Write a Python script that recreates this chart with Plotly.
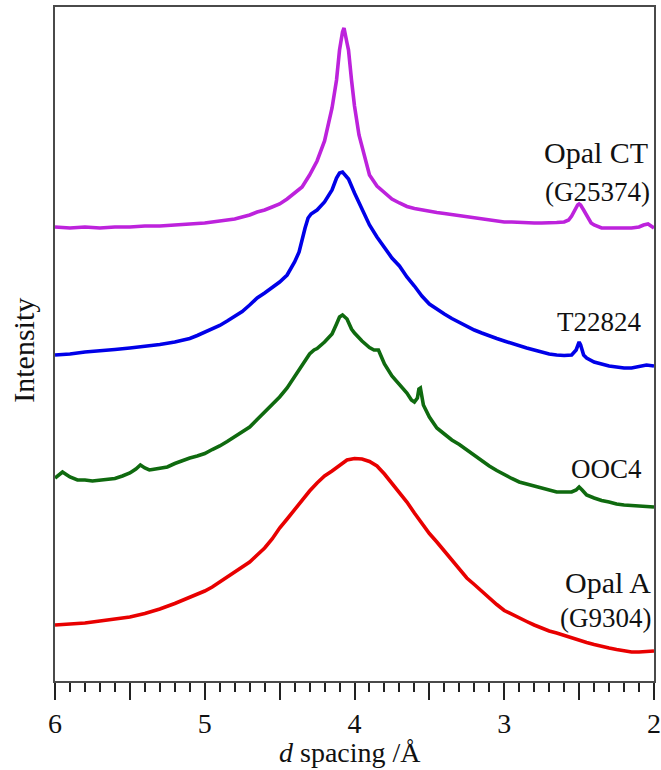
import plotly.graph_objects as go

# d spacing (Å) and stacked intensity (arbitrary units, offset per sample)

# Opal CT (G25374)
ct_d = [6.00, 5.90, 5.80, 5.70, 5.60, 5.50, 5.40, 5.30, 5.20, 5.10, 5.00, 4.90, 4.80, 4.75,
        4.70, 4.65, 4.60, 4.55, 4.50, 4.45, 4.40, 4.35, 4.30, 4.25, 4.20, 4.15, 4.12, 4.10,
        4.08, 4.07, 4.05, 4.04, 4.02, 4.00, 3.97, 3.95, 3.90, 3.85, 3.80, 3.75, 3.70, 3.65,
        3.60, 3.55, 3.50, 3.45, 3.40, 3.35, 3.30, 3.25, 3.20, 3.15, 3.10, 3.05, 3.00, 2.95,
        2.90, 2.85, 2.80, 2.75, 2.70, 2.65, 2.60, 2.57, 2.55, 2.53, 2.51, 2.50, 2.49, 2.47,
        2.45, 2.42, 2.40, 2.35, 2.30, 2.25, 2.20, 2.15, 2.10, 2.07, 2.04, 2.02, 2.00]
ct_int = [454, 453, 454, 453, 454, 454, 455, 455, 456, 457, 458, 460, 462, 464,
          466, 469, 471, 474, 477, 482, 488, 494, 506, 520, 540, 573, 601, 631,
          649, 653, 638, 631, 601, 575, 546, 534, 506, 495, 488, 482, 478, 474.5,
          472.5, 471, 469.5, 468.5, 467.5, 466.5, 465.5, 464.5, 463, 462, 461, 460, 459, 459,
          458.5, 458, 458, 458, 458, 458.5, 459, 461, 465, 471, 476, 477, 476, 471,
          466, 458, 456, 453, 453, 453, 453, 453, 454, 456, 457, 455, 453]

# T22824
t_d = [6.00, 5.90, 5.80, 5.70, 5.60, 5.50, 5.40, 5.30, 5.20, 5.10, 5.05, 5.00, 4.95, 4.90,
       4.85, 4.80, 4.75, 4.70, 4.65, 4.60, 4.55, 4.50, 4.45, 4.42, 4.40, 4.37, 4.35, 4.33,
       4.31, 4.29, 4.27, 4.25, 4.20, 4.15, 4.12, 4.10, 4.08, 4.06, 4.04, 4.00, 3.95, 3.90,
       3.85, 3.80, 3.75, 3.70, 3.65, 3.60, 3.55, 3.50, 3.45, 3.40, 3.35, 3.30, 3.25, 3.20,
       3.15, 3.10, 3.05, 3.00, 2.95, 2.90, 2.85, 2.80, 2.75, 2.70, 2.65, 2.60, 2.55, 2.52,
       2.50, 2.49, 2.47, 2.45, 2.40, 2.35, 2.30, 2.25, 2.20, 2.15, 2.10, 2.05, 2.00]
t_int = [326, 327, 329, 330, 331.5, 333, 334.5, 336.5, 339, 342.5, 345.5, 349, 352, 355.5,
         360, 364.5, 369.5, 376, 383, 388, 393, 399, 406, 414, 419, 429, 443, 453,
         463, 467, 469, 471, 479, 491, 503, 508, 509, 506, 502, 488, 471, 456,
         444, 433, 423, 415, 404, 395, 385, 377, 371.5, 367, 362.5, 358.5, 354.5, 351,
         348, 345, 342.5, 340, 337.5, 335.5, 333, 331, 329, 327, 326, 325.5, 326, 331,
         339, 336, 326, 323, 319, 317, 315, 314, 313, 313, 314.5, 316, 315]

# OOC4
oo_d = [6.00, 5.97, 5.95, 5.92, 5.90, 5.85, 5.80, 5.75, 5.70, 5.65, 5.60, 5.55, 5.50, 5.46,
        5.43, 5.40, 5.37, 5.35, 5.30, 5.25, 5.20, 5.15, 5.10, 5.05, 5.00, 4.95, 4.90, 4.85,
        4.80, 4.75, 4.70, 4.65, 4.60, 4.55, 4.50, 4.45, 4.40, 4.35, 4.30, 4.27, 4.25, 4.20,
        4.15, 4.12, 4.10, 4.08, 4.05, 4.02, 4.00, 3.95, 3.90, 3.87, 3.84, 3.82, 3.80, 3.75,
        3.70, 3.65, 3.62, 3.60, 3.58, 3.57, 3.56, 3.54, 3.50, 3.45, 3.40, 3.35, 3.30, 3.25,
        3.20, 3.15, 3.10, 3.05, 3.00, 2.95, 2.90, 2.85, 2.80, 2.75, 2.70, 2.65, 2.60, 2.55,
        2.52, 2.50, 2.48, 2.45, 2.40, 2.35, 2.30, 2.25, 2.20, 2.10, 2.00]
oo_int = [203, 207, 209, 206, 204, 201, 201, 200, 201, 201.5, 202.5, 205, 208, 212,
          216, 213, 211, 211.5, 213, 214, 217.5, 220.5, 223, 225, 227.5, 231.5, 235, 239.5,
          244, 249.5, 254, 261.5, 269, 276, 284, 293, 304, 315, 327, 331, 332.5, 339,
          347, 357, 364, 366, 362, 352, 348, 340, 333.5, 331, 331, 324, 317, 305,
          297, 288, 281, 279, 283, 292, 293, 276, 264, 253, 247, 241, 236.5, 231,
          226, 221, 215, 210.5, 206, 202.5, 199, 197, 195, 193, 191, 189, 189, 189,
          191, 194, 191, 186, 183, 180.5, 179, 177, 176, 175, 174]

# Opal A (G9304)
oa_d = [6.00, 5.90, 5.80, 5.70, 5.60, 5.50, 5.40, 5.30, 5.20, 5.10, 5.05, 5.00, 4.95, 4.90,
        4.85, 4.80, 4.75, 4.70, 4.65, 4.60, 4.55, 4.50, 4.45, 4.40, 4.35, 4.30, 4.25, 4.20,
        4.15, 4.10, 4.05, 4.00, 3.95, 3.90, 3.85, 3.80, 3.75, 3.70, 3.65, 3.60, 3.55, 3.50,
        3.45, 3.40, 3.35, 3.30, 3.25, 3.20, 3.15, 3.10, 3.05, 3.00, 2.95, 2.90, 2.85, 2.80,
        2.75, 2.70, 2.65, 2.60, 2.55, 2.50, 2.45, 2.40, 2.35, 2.30, 2.25, 2.20, 2.15, 2.10,
        2.05, 2.00]
oa_int = [56, 57, 58, 60, 62, 64, 67.5, 72, 77.5, 83.5, 87, 90, 94, 99,
          104, 109, 114, 119, 126, 133, 142, 153, 162, 171.5, 181, 190, 198, 205,
          210, 216, 221, 222.5, 222, 219.5, 215, 207, 198, 188, 179, 168, 157, 147.5,
          139, 130, 120, 111, 103, 96.5, 89.5, 83, 76.5, 70.5, 66.5, 63, 59.5, 56,
          53, 50, 48, 45.5, 43.5, 41, 38.5, 36.5, 34.5, 33, 31.5, 30, 29, 29,
          29.5, 30]

series = [
    (oa_d, oa_int, "#e80000"),
    (oo_d, oo_int, "#0f6a0f"),
    (t_d, t_int, "#0000e8"),
    (ct_d, ct_int, "#bd22dc"),
]

# sample labels: text, d position (right edge), intensity position, font size
labels = [
    ("Opal CT", 2.025, 529, 30),
    ("(G25374)", 2.015, 489, 27),
    ("T22824", 2.075, 359, 27),
    ("OOC4", 2.065, 212, 27),
    ("Opal A", 2.010, 99, 30),
    ("(G9304)", 2.010, 63, 27),
]

SERIF = "Liberation Serif, Times New Roman, serif"
AXIS_COLOR = "#4a4a4a"
TEXT_COLOR = "#111111"

fig = go.Figure()
for d, inten, color in series:
    fig.add_trace(go.Scatter(x=d, y=inten, mode="lines",
                             line=dict(color=color, width=3.6),
                             showlegend=False, hoverinfo="skip"))

for text, xd, yi, size in labels:
    fig.add_annotation(x=xd, y=yi, text=text, showarrow=False,
                       xanchor="right", yanchor="middle",
                       font=dict(family=SERIF, size=size, color=TEXT_COLOR))

# axis titles
fig.add_annotation(xref="paper", yref="paper", x=0.492, y=0, yshift=-71,
                   text="<i>d</i> spacing /Å", showarrow=False,
                   xanchor="center", yanchor="middle",
                   font=dict(family=SERIF, size=28, color=TEXT_COLOR))
fig.add_annotation(xref="paper", yref="paper", x=0, xshift=-31, y=0.49,
                   text="Intensity", textangle=-90, showarrow=False,
                   xanchor="center", yanchor="middle",
                   font=dict(family=SERIF, size=30, color=TEXT_COLOR))

major_vals = [6, 5.5, 5, 4.5, 4, 3.5, 3, 2.5, 2]
major_text = ["6", "", "5", "", "4", "", "3", "", "2"]

fig.update_layout(
    width=661, height=770,
    margin=dict(l=55, r=7, t=7, b=89),
    paper_bgcolor="white", plot_bgcolor="white",
    font=dict(family=SERIF, color=TEXT_COLOR),
    xaxis=dict(
        range=[6, 2], autorange=False, automargin=False,
        tickmode="array", tickvals=major_vals, ticktext=major_text,
        ticks="outside", ticklen=17, tickwidth=1.5, tickcolor="#222222",
        ticklabelstandoff=0, ticklabeloverflow="allow",
        minor=dict(dtick=0.1, tick0=2, ticks="outside", ticklen=9,
                   tickwidth=1.5, tickcolor="#222222"),
        showline=True, linecolor=AXIS_COLOR, linewidth=1.5, mirror=True,
        showgrid=False, zeroline=False,
        tickfont=dict(family=SERIF, size=28, color=TEXT_COLOR),
    ),
    yaxis=dict(
        range=[0, 674], autorange=False, automargin=False,
        showticklabels=False, ticks="",
        showline=True, linecolor=AXIS_COLOR, linewidth=1.5, mirror=True,
        showgrid=False, zeroline=False,
    ),
)

fig.write_html("out.html")
